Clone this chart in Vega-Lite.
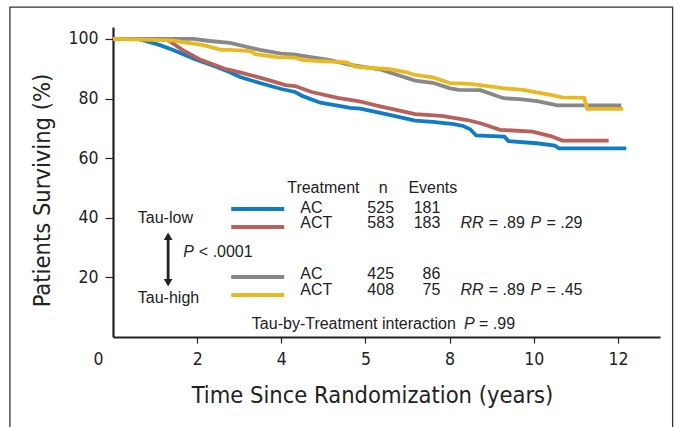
{
  "$schema": "https://vega.github.io/schema/vega-lite/v6.json",
  "width": 547,
  "height": 310,
  "autosize": {"type": "none"},
  "padding": {"left": 113, "top": 27, "right": 18, "bottom": 90},
  "background": "white",
  "config": {"view": {"stroke": null}, "font": "Liberation Sans", "text": {"fontSize": 16, "color": "#222", "baseline": "middle", "align": "left"}},
  "data": {"values": [{}]},
  "datasets": {
    "km": [
      {"group": "Tau-low AC", "t": 0, "s": 100}, {"group": "Tau-low AC", "t": 0.6, "s": 100}, {"group": "Tau-low AC", "t": 0.81, "s": 99.2}, {"group": "Tau-low AC", "t": 1.1, "s": 98}, {"group": "Tau-low AC", "t": 1.43, "s": 96.3}, {"group": "Tau-low AC", "t": 1.95, "s": 93.2}, {"group": "Tau-low AC", "t": 2.45, "s": 90.7}, {"group": "Tau-low AC", "t": 2.78, "s": 88.8}, {"group": "Tau-low AC", "t": 3.02, "s": 87.2}, {"group": "Tau-low AC", "t": 3.49, "s": 85.2}, {"group": "Tau-low AC", "t": 4.0, "s": 83.2}, {"group": "Tau-low AC", "t": 4.33, "s": 82.2}, {"group": "Tau-low AC", "t": 4.51, "s": 80.8}, {"group": "Tau-low AC", "t": 4.93, "s": 78.6}, {"group": "Tau-low AC", "t": 5.64, "s": 76.9}, {"group": "Tau-low AC", "t": 5.88, "s": 76.6}, {"group": "Tau-low AC", "t": 6.57, "s": 74.5}, {"group": "Tau-low AC", "t": 7.18, "s": 72.6}, {"group": "Tau-low AC", "t": 7.6, "s": 72.2}, {"group": "Tau-low AC", "t": 8.1, "s": 71.4}, {"group": "Tau-low AC", "t": 8.32, "s": 70.8}, {"group": "Tau-low AC", "t": 8.49, "s": 69.7}, {"group": "Tau-low AC", "t": 8.63, "s": 67.6}, {"group": "Tau-low AC", "t": 9.3, "s": 67.2}, {"group": "Tau-low AC", "t": 9.4, "s": 65.7}, {"group": "Tau-low AC", "t": 10.07, "s": 65}, {"group": "Tau-low AC", "t": 10.5, "s": 64.2}, {"group": "Tau-low AC", "t": 10.6, "s": 63.3}, {"group": "Tau-low AC", "t": 12.2, "s": 63.3},
      {"group": "Tau-low ACT", "t": 0, "s": 100}, {"group": "Tau-low ACT", "t": 1.1, "s": 100}, {"group": "Tau-low ACT", "t": 1.33, "s": 99.4}, {"group": "Tau-low ACT", "t": 1.63, "s": 96.5}, {"group": "Tau-low ACT", "t": 2.05, "s": 93.2}, {"group": "Tau-low ACT", "t": 2.66, "s": 90}, {"group": "Tau-low ACT", "t": 3.02, "s": 88.8}, {"group": "Tau-low ACT", "t": 3.7, "s": 86.2}, {"group": "Tau-low ACT", "t": 4.1, "s": 84.5}, {"group": "Tau-low ACT", "t": 4.33, "s": 84.2}, {"group": "Tau-low ACT", "t": 4.72, "s": 82.2}, {"group": "Tau-low ACT", "t": 5.34, "s": 80.2}, {"group": "Tau-low ACT", "t": 5.75, "s": 79.3}, {"group": "Tau-low ACT", "t": 5.88, "s": 79}, {"group": "Tau-low ACT", "t": 6.27, "s": 77.6}, {"group": "Tau-low ACT", "t": 6.78, "s": 76}, {"group": "Tau-low ACT", "t": 7.18, "s": 74.8}, {"group": "Tau-low ACT", "t": 7.81, "s": 74.2}, {"group": "Tau-low ACT", "t": 8.42, "s": 72.8}, {"group": "Tau-low ACT", "t": 8.73, "s": 71.7}, {"group": "Tau-low ACT", "t": 9.2, "s": 69.5}, {"group": "Tau-low ACT", "t": 9.97, "s": 68.9}, {"group": "Tau-low ACT", "t": 10.4, "s": 67.4}, {"group": "Tau-low ACT", "t": 10.68, "s": 65.9}, {"group": "Tau-low ACT", "t": 11.78, "s": 65.9},
      {"group": "Tau-high AC", "t": 0, "s": 100}, {"group": "Tau-high AC", "t": 1.9, "s": 100}, {"group": "Tau-high AC", "t": 2.3, "s": 99.3}, {"group": "Tau-high AC", "t": 2.78, "s": 98.7}, {"group": "Tau-high AC", "t": 3.07, "s": 97.7}, {"group": "Tau-high AC", "t": 3.49, "s": 96.3}, {"group": "Tau-high AC", "t": 4.0, "s": 95.1}, {"group": "Tau-high AC", "t": 4.33, "s": 94.7}, {"group": "Tau-high AC", "t": 4.51, "s": 94.3}, {"group": "Tau-high AC", "t": 5.13, "s": 93}, {"group": "Tau-high AC", "t": 5.64, "s": 91.3}, {"group": "Tau-high AC", "t": 5.88, "s": 90.8}, {"group": "Tau-high AC", "t": 6.37, "s": 89.7}, {"group": "Tau-high AC", "t": 6.78, "s": 87.8}, {"group": "Tau-high AC", "t": 7.18, "s": 86}, {"group": "Tau-high AC", "t": 7.6, "s": 85.3}, {"group": "Tau-high AC", "t": 8.01, "s": 83.4}, {"group": "Tau-high AC", "t": 8.22, "s": 82.9}, {"group": "Tau-high AC", "t": 8.73, "s": 82.8}, {"group": "Tau-high AC", "t": 9.28, "s": 80.1}, {"group": "Tau-high AC", "t": 9.66, "s": 79.8}, {"group": "Tau-high AC", "t": 10.08, "s": 79.1}, {"group": "Tau-high AC", "t": 10.56, "s": 77.7}, {"group": "Tau-high AC", "t": 12.08, "s": 77.7},
      {"group": "Tau-high ACT", "t": 0, "s": 100}, {"group": "Tau-high ACT", "t": 1.4, "s": 99.5}, {"group": "Tau-high ACT", "t": 1.63, "s": 99}, {"group": "Tau-high ACT", "t": 2.15, "s": 97.9}, {"group": "Tau-high ACT", "t": 2.57, "s": 96.3}, {"group": "Tau-high ACT", "t": 2.78, "s": 96.3}, {"group": "Tau-high ACT", "t": 3.28, "s": 95.9}, {"group": "Tau-high ACT", "t": 3.38, "s": 94.9}, {"group": "Tau-high ACT", "t": 3.9, "s": 93.9}, {"group": "Tau-high ACT", "t": 4.33, "s": 93.7}, {"group": "Tau-high ACT", "t": 4.51, "s": 92.9}, {"group": "Tau-high ACT", "t": 5.55, "s": 92.1}, {"group": "Tau-high ACT", "t": 5.75, "s": 90.8}, {"group": "Tau-high ACT", "t": 5.88, "s": 90.5}, {"group": "Tau-high ACT", "t": 6.57, "s": 89.9}, {"group": "Tau-high ACT", "t": 6.98, "s": 88.8}, {"group": "Tau-high ACT", "t": 7.18, "s": 87.9}, {"group": "Tau-high ACT", "t": 7.6, "s": 87.1}, {"group": "Tau-high ACT", "t": 8.01, "s": 85.2}, {"group": "Tau-high ACT", "t": 8.49, "s": 84.9}, {"group": "Tau-high ACT", "t": 8.73, "s": 84.5}, {"group": "Tau-high ACT", "t": 9.25, "s": 83.5}, {"group": "Tau-high ACT", "t": 9.75, "s": 82.9}, {"group": "Tau-high ACT", "t": 10.07, "s": 82.1}, {"group": "Tau-high ACT", "t": 10.4, "s": 81.2}, {"group": "Tau-high ACT", "t": 10.68, "s": 80.4}, {"group": "Tau-high ACT", "t": 11.2, "s": 80.2}, {"group": "Tau-high ACT", "t": 11.27, "s": 76.5}, {"group": "Tau-high ACT", "t": 12.12, "s": 76.5}
    ]
  },
  "layer": [
    {
      "mark": {"type": "rect", "fill": null, "stroke": "#333", "strokeWidth": 1.3},
      "encoding": {
        "x": {"datum": -2.45, "type": "quantitative"},
        "x2": {"datum": 13.3},
        "y": {"datum": 110.7, "type": "quantitative"},
        "y2": {"datum": -40}
      }
    },
    {
      "data": {"name": "km"},
      "mark": {"type": "line", "strokeWidth": 3.8, "interpolate": "linear", "strokeJoin": "miter"},
      "encoding": {
        "x": {
          "field": "t", "type": "quantitative",
          "scale": {"domain": [0, 13], "nice": false, "zero": false},
          "axis": {
            "values": [0, 2, 4, 6, 8, 10, 12],
            "labelExpr": "datum.value == 6 ? '5' : datum.label",
            "labelOffset": {"condition": {"test": "datum.value == 0", "value": -20}, "value": 0},
            "tickOpacity": {"condition": {"test": "datum.value == 0", "value": 0}, "value": 1},
            "grid": false, "domainColor": "#222", "domainWidth": 2.2, "tickColor": "#222", "tickWidth": 1.2, "tickSize": 6,
            "labelFont": "DejaVu Sans Condensed, Roboto, sans-serif", "labelFontSize": 17.5, "labelColor": "#222", "labelPadding": 7,
            "title": "Time Since Randomization (years)", "titleFont": "DejaVu Sans Condensed, Roboto, sans-serif", "titleFontSize": 23.5,
            "titleFontWeight": "normal", "titleColor": "#222", "titleX": 259, "titleY": 58, "titleBaseline": "middle", "titleAnchor": null, "titleAlign": "center"
          }
        },
        "y": {
          "field": "s", "type": "quantitative",
          "scale": {"domain": [0, 104], "nice": false},
          "axis": {
            "values": [20, 40, 60, 80, 100],
            "grid": false, "domainColor": "#222", "domainWidth": 2.2, "tickColor": "#222", "tickWidth": 1.2, "tickSize": 8,
            "labelFont": "DejaVu Sans Condensed, Roboto, sans-serif", "labelFontSize": 17.5, "labelColor": "#222", "labelPadding": 7,
            "title": "Patients Surviving (%)", "titleFont": "DejaVu Sans Condensed, Roboto, sans-serif", "titleFontSize": 23.5,
            "titleFontWeight": "normal", "titleColor": "#222", "titleX": -71, "titleY": 163, "titleAngle": -90, "titleBaseline": "middle", "titleAlign": "center", "titleAnchor": null
          }
        },
        "color": {
          "field": "group", "type": "nominal", "legend": null,
          "scale": {"domain": ["Tau-low AC", "Tau-low ACT", "Tau-high AC", "Tau-high ACT"], "range": ["#0f7cc4", "#b8605a", "#888888", "#e8b922"]}
        },
        "order": {"field": "t"}
      }
    },
    {"mark": {"type": "rule", "strokeWidth": 4, "color": "#0f7cc4"}, "encoding": {"x": {"datum": 2.81}, "x2": {"datum": 4.07}, "y": {"datum": 42.95}}},
    {"mark": {"type": "rule", "strokeWidth": 4, "color": "#b8605a"}, "encoding": {"x": {"datum": 2.81}, "x2": {"datum": 4.07}, "y": {"datum": 36.9}}},
    {"mark": {"type": "rule", "strokeWidth": 4, "color": "#888888"}, "encoding": {"x": {"datum": 2.81}, "x2": {"datum": 4.07}, "y": {"datum": 20.1}}},
    {"mark": {"type": "rule", "strokeWidth": 4, "color": "#e8b922"}, "encoding": {"x": {"datum": 2.81}, "x2": {"datum": 4.07}, "y": {"datum": 14.1}}},
    {"mark": {"type": "rule", "strokeWidth": 2.8, "color": "#222"}, "encoding": {"x": {"datum": 1.31}, "y": {"datum": 33.5}, "y2": {"datum": 18.5}}},
    {"mark": {"type": "point", "shape": "triangle-up", "filled": true, "size": 75, "color": "#222", "opacity": 1}, "encoding": {"x": {"datum": 1.31}, "y": {"datum": 33.8}}},
    {"mark": {"type": "point", "shape": "triangle-down", "filled": true, "size": 75, "color": "#222", "opacity": 1}, "encoding": {"x": {"datum": 1.31}, "y": {"datum": 18.2}}},
    {"mark": {"type": "text"}, "encoding": {"x": {"datum": 4.14}, "y": {"datum": 50}, "text": {"value": "Treatment"}}},
    {"mark": {"type": "text", "align": "center"}, "encoding": {"x": {"datum": 6.42}, "y": {"datum": 50}, "text": {"value": "n"}}},
    {"mark": {"type": "text"}, "encoding": {"x": {"datum": 7.02}, "y": {"datum": 50}, "text": {"value": "Events"}}},
    {"mark": {"type": "text"}, "encoding": {"x": {"datum": 4.45}, "y": {"datum": 43.4}, "text": {"value": "AC"}}},
    {"mark": {"type": "text"}, "encoding": {"x": {"datum": 4.45}, "y": {"datum": 38.2}, "text": {"value": "ACT"}}},
    {"mark": {"type": "text"}, "encoding": {"x": {"datum": 4.45}, "y": {"datum": 21.1}, "text": {"value": "AC"}}},
    {"mark": {"type": "text"}, "encoding": {"x": {"datum": 4.45}, "y": {"datum": 15.9}, "text": {"value": "ACT"}}},
    {"mark": {"type": "text", "align": "right"}, "encoding": {"x": {"datum": 6.68}, "y": {"datum": 43.4}, "text": {"value": "525"}}},
    {"mark": {"type": "text", "align": "right"}, "encoding": {"x": {"datum": 6.68}, "y": {"datum": 38.2}, "text": {"value": "583"}}},
    {"mark": {"type": "text", "align": "right"}, "encoding": {"x": {"datum": 6.68}, "y": {"datum": 21.1}, "text": {"value": "425"}}},
    {"mark": {"type": "text", "align": "right"}, "encoding": {"x": {"datum": 6.68}, "y": {"datum": 15.9}, "text": {"value": "408"}}},
    {"mark": {"type": "text", "align": "right"}, "encoding": {"x": {"datum": 7.78}, "y": {"datum": 43.4}, "text": {"value": "181"}}},
    {"mark": {"type": "text", "align": "right"}, "encoding": {"x": {"datum": 7.78}, "y": {"datum": 38.2}, "text": {"value": "183"}}},
    {"mark": {"type": "text", "align": "right"}, "encoding": {"x": {"datum": 7.78}, "y": {"datum": 21.1}, "text": {"value": "86"}}},
    {"mark": {"type": "text", "align": "right"}, "encoding": {"x": {"datum": 7.78}, "y": {"datum": 15.9}, "text": {"value": "75"}}},
    {"mark": {"type": "text", "fontStyle": "italic"}, "encoding": {"x": {"datum": 8.26}, "y": {"datum": 38.2}, "text": {"value": "RR"}}},
    {"mark": {"type": "text"}, "encoding": {"x": {"datum": 8.93}, "y": {"datum": 38.2}, "text": {"value": "= .89"}}},
    {"mark": {"type": "text", "fontStyle": "italic"}, "encoding": {"x": {"datum": 9.92}, "y": {"datum": 38.2}, "text": {"value": "P"}}},
    {"mark": {"type": "text"}, "encoding": {"x": {"datum": 10.3}, "y": {"datum": 38.2}, "text": {"value": "= .29"}}},
    {"mark": {"type": "text", "fontStyle": "italic"}, "encoding": {"x": {"datum": 8.26}, "y": {"datum": 15.9}, "text": {"value": "RR"}}},
    {"mark": {"type": "text"}, "encoding": {"x": {"datum": 8.93}, "y": {"datum": 15.9}, "text": {"value": "= .89"}}},
    {"mark": {"type": "text", "fontStyle": "italic"}, "encoding": {"x": {"datum": 9.92}, "y": {"datum": 15.9}, "text": {"value": "P"}}},
    {"mark": {"type": "text"}, "encoding": {"x": {"datum": 10.3}, "y": {"datum": 15.9}, "text": {"value": "= .45"}}},
    {"mark": {"type": "text"}, "encoding": {"x": {"datum": 0.59}, "y": {"datum": 39.9}, "text": {"value": "Tau-low"}}},
    {"mark": {"type": "text"}, "encoding": {"x": {"datum": 0.59}, "y": {"datum": 13.1}, "text": {"value": "Tau-high"}}},
    {"mark": {"type": "text", "fontStyle": "italic"}, "encoding": {"x": {"datum": 1.67}, "y": {"datum": 28.5}, "text": {"value": "P"}}},
    {"mark": {"type": "text"}, "encoding": {"x": {"datum": 2.04}, "y": {"datum": 28.5}, "text": {"value": "< .0001"}}},
    {"mark": {"type": "text"}, "encoding": {"x": {"datum": 3.3}, "y": {"datum": 4.4}, "text": {"value": "Tau-by-Treatment interaction"}}},
    {"mark": {"type": "text", "fontStyle": "italic"}, "encoding": {"x": {"datum": 8.34}, "y": {"datum": 4.4}, "text": {"value": "P"}}},
    {"mark": {"type": "text"}, "encoding": {"x": {"datum": 8.7}, "y": {"datum": 4.4}, "text": {"value": "= .99"}}}
  ]
}
